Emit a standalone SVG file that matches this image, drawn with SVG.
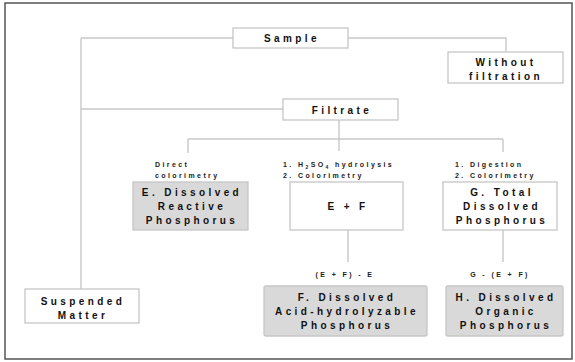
<svg xmlns="http://www.w3.org/2000/svg" width="575" height="362" viewBox="0 0 575 362">
<style>
.bd{fill:none;stroke:#555;stroke-width:1.5}
.bx{fill:#fff;stroke:#c6c6c6;stroke-width:1.3}
.gx{fill:#d9d9d9;stroke:#c6c6c6;stroke-width:1.3}
.cn{fill:none;stroke:#c8c8c8;stroke-width:1.4}
.t{font-family:"Liberation Sans",Arial,sans-serif;font-weight:bold;font-size:10px;letter-spacing:3.4px;fill:#111;text-anchor:middle}
.s{font-family:"Liberation Sans",Arial,sans-serif;font-weight:bold;font-size:7px;letter-spacing:2.4px;fill:#222}
</style>
<rect x="0" y="0" width="575" height="362" fill="#fff"/>
<rect class="bd" x="5" y="3" width="567" height="356"/>
<g id="connectors">
<path class="cn" d="M81,38 H233"/>
<path class="cn" d="M348,38 H506 V51"/>
<path class="cn" d="M81,38 V289"/>
<path class="cn" d="M81,109 H283"/>
<path class="cn" d="M339,120 V139"/>
<path class="cn" d="M188,139 H503"/>
<path class="cn" d="M188,139 V153"/>
<path class="cn" d="M339,139 V151"/>
<path class="cn" d="M503,139 V152"/>
<path class="cn" d="M348,230 V262"/>
<path class="cn" d="M503,230 V262"/>
</g>
<g id="sample">
<rect class="bx" x="233" y="28" width="115" height="20"/>
<text class="t" x="292" y="42">Sample</text>
</g>
<g id="without">
<rect class="bx" x="448" y="52" width="115" height="31"/>
<text class="t" x="506" y="66">Without</text>
<text class="t" x="506" y="80">filtration</text>
</g>
<g id="filtrate">
<rect class="bx" x="283" y="99" width="115" height="21"/>
<text class="t" x="342" y="113.5">Filtrate</text>
</g>
<g id="label-direct">
<text class="s" x="155" y="167">Direct</text>
<text class="s" x="155" y="178">colorimetry</text>
</g>
<g id="label-h2so4">
<text class="s" x="283" y="167">1. H<tspan font-size="5" dy="1.5">2</tspan><tspan dy="-1.5">SO</tspan><tspan font-size="5" dy="1.5">4</tspan><tspan dy="-1.5"> hydrolysis</tspan></text>
<text class="s" x="283" y="178">2. Colorimetry</text>
</g>
<g id="label-digestion">
<text class="s" x="455" y="167">1. Digestion</text>
<text class="s" x="455" y="178">2. Colorimetry</text>
</g>
<g id="E">
<rect class="gx" x="133" y="182" width="115" height="48"/>
<text class="t" x="192" y="196">E. Dissolved</text>
<text class="t" x="192" y="210">Reactive</text>
<text class="t" x="192" y="224">Phosphorus</text>
</g>
<g id="EF">
<rect class="bx" x="290" y="182" width="113" height="48"/>
<text class="t" x="348" y="210">E + F</text>
</g>
<g id="G">
<rect class="bx" x="443" y="182" width="114" height="48"/>
<text class="t" x="502" y="196">G. Total</text>
<text class="t" x="502" y="210">Dissolved</text>
<text class="t" x="502" y="224">Phosphorus</text>
</g>
<g id="label-f">
<text class="s" x="345" y="277" text-anchor="middle">(E + F) - E</text>
</g>
<g id="label-h">
<text class="s" x="500" y="277" text-anchor="middle">G - (E + F)</text>
</g>
<g id="suspended">
<rect class="bx" x="25" y="289" width="114" height="34"/>
<text class="t" x="83" y="305">Suspended</text>
<text class="t" x="83" y="319">Matter</text>
</g>
<g id="F">
<rect class="gx" x="264" y="286" width="163" height="50" rx="2"/>
<text class="t" x="347" y="301">F. Dissolved</text>
<text class="t" x="347" y="315">Acid-hydrolyzable</text>
<text class="t" x="347" y="329">Phosphorus</text>
</g>
<g id="H">
<rect class="gx" x="446" y="286" width="117" height="50" rx="2"/>
<text class="t" x="506" y="301">H. Dissolved</text>
<text class="t" x="506" y="315">Organic</text>
<text class="t" x="506" y="329">Phosphorus</text>
</g>
</svg>
